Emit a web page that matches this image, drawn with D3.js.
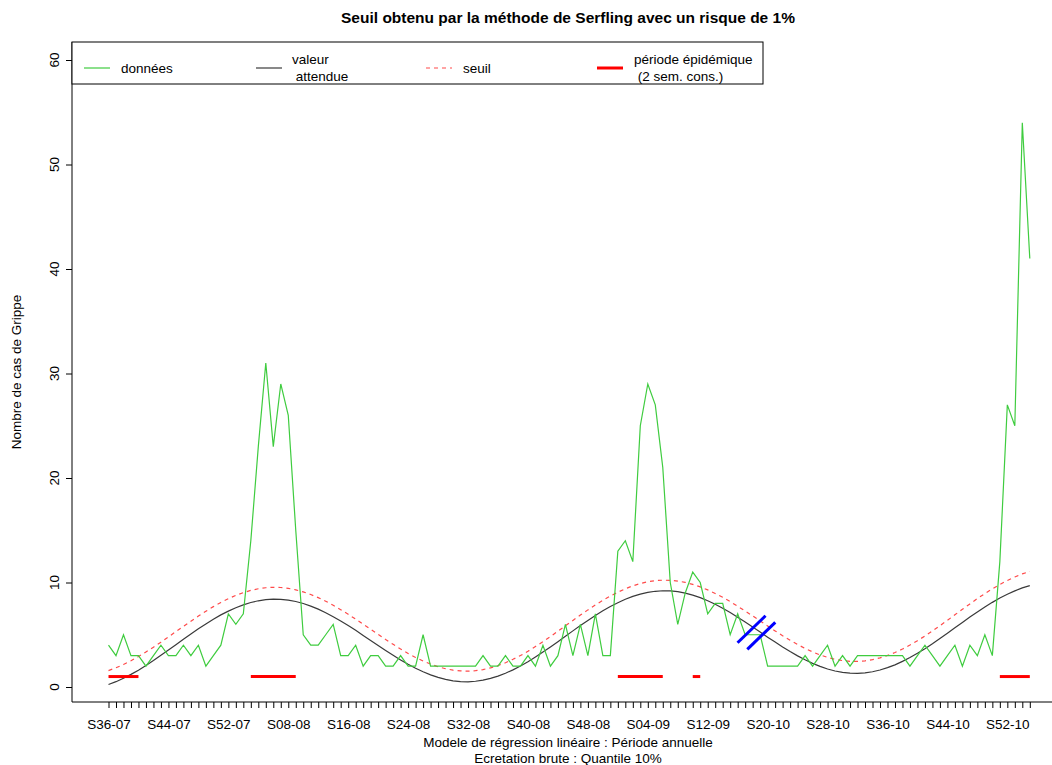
<!DOCTYPE html>
<html><head><meta charset="utf-8">
<script src="https://cdn.jsdelivr.net/npm/d3@7"></script>
<style>
body{margin:0;background:#fff;}
svg{display:block;font-family:"Liberation Sans",Arial,sans-serif;}
</style>
</head><body>
<svg id="chart" width="1052" height="765"></svg>
<script>
// ---- data ----
const tickLabels = ["S36-07","S44-07","S52-07","S08-08","S16-08","S24-08","S32-08","S40-08",
  "S48-08","S04-09","S12-09","S20-10","S28-10","S36-10","S44-10","S52-10"];
const tickStep = 8;
const yTicks = [0,10,20,30,40,50,60];

const donnees = [4,3,5,3,3,2,3,4,3,3, 4,3,4,2,3,4,7,6,7,14, 23,31,23,29,26,15,5,4,4,5,
  6,3,3,4,2,3,3,2,2,3, 2,2,5,2,2,2,2,2,2,2, 3,2,2,3,2,2,3,2,4,2,
  3,6,3,6,3,7,3,3,13,14, 12,25,29,27,21,10,6,9,11,10, 7,8,8,5,7,5,5,5,2,2,
  2,2,2,3,2,3,4,2,3,2, 3,3,3,3,3,3,3,2,3,4, 3,2,3,4,2,4,3,5,3,12, 27,25,54,41];

const valeurAttendue = [0.24,0.51,0.84,1.21,1.61,2.06,2.53,3.03,3.53,4.05,
  4.57,5.07,5.57,6.04,6.49,6.90,7.26,7.59,7.86,8.09,
  8.25,8.36,8.40,8.39,8.31,8.18,7.99,7.74,7.45,7.11,
  6.73,6.32,5.88,5.42,4.94,4.45,3.97,3.49,3.03,2.59,
  2.17,1.79,1.46,1.16,0.92,0.73,0.59,0.52,0.50,0.55,
  0.66,0.82,1.04,1.32,1.64,2.01,2.42,2.87,3.34,3.83,
  4.34,4.86,5.37,5.88,6.37,6.85,7.29,7.70,8.07,8.40,
  8.67,8.89,9.06,9.16,9.21,9.19,9.12,8.98,8.79,8.55,
  8.26,7.92,7.54,7.13,6.68,6.22,5.74,5.26,4.77,4.30,
  3.83,3.39,2.98,2.60,2.26,1.97,1.72,1.53,1.40,1.33,
  1.31,1.36,1.46,1.63,1.85,2.12,2.45,2.82,3.23,3.67,
  4.14,4.64,5.15,5.66,6.18,6.69,7.18,7.65,8.10,8.51,
  8.88,9.20,9.48,9.70];

const seuil = [1.57,1.84,2.15,2.51,2.91,3.35,3.81,4.29,4.79,5.30,
  5.80,6.30,6.79,7.25,7.69,8.09,8.45,8.77,9.03,9.25,
  9.40,9.50,9.54,9.52,9.44,9.30,9.10,8.85,8.55,8.21,
  7.82,7.40,6.96,6.49,6.00,5.52,5.03,4.54,4.08,3.63,
  3.21,2.83,2.49,2.19,1.94,1.75,1.61,1.54,1.52,1.56,
  1.67,1.83,2.05,2.32,2.65,3.01,3.42,3.87,4.34,4.83,
  5.34,5.86,6.37,6.88,7.38,7.85,8.29,8.70,9.07,9.40,
  9.68,9.90,10.07,10.18,10.22,10.21,10.14,10.01,9.82,9.58,
  9.29,8.95,8.58,8.17,7.73,7.27,6.80,6.32,5.84,5.37,
  4.91,4.48,4.07,3.69,3.36,3.07,2.83,2.65,2.53,2.46,
  2.45,2.50,2.62,2.79,3.02,3.30,3.63,4.01,4.43,4.88,
  5.36,5.87,6.38,6.91,7.43,7.95,8.46,8.94,9.39,9.81,
  10.19,10.53,10.82,11.05];

const epiStart = [0,19,68,78,119];
const epiEnd   = [4,25,74,79,123];
const epiLevel = 1;
const breakIndex = 86.5;

const titre = "Seuil obtenu par la méthode de Serfling avec un risque de 1%";
const sousTitre = ["Modele de régression linéaire : Période annuelle","Ecretation brute : Quantile 10%"];
const yTitre = "Nombre de cas de Grippe";

// ---- chart ----
const svg = d3.select("#chart");
const W = 1052, H = 765;
const plot = {left:72, top:42, bottom:702, right:1064};
const x = d3.scaleLinear().domain([0, donnees.length-1]).range([108.5, 1029.8]);
const y = d3.scaleLinear().domain([0,60]).range([687,60]);
const fs = 13.5;

svg.append("rect").attr("width",W).attr("height",H).attr("fill","#fff");

// frame (L-shaped)
svg.append("path")
  .attr("d",`M${plot.left},${plot.top}V${plot.bottom}H${W}`)
  .attr("fill","none").attr("stroke","#000").attr("stroke-width",1);

// x axis
const xAxis = d3.axisBottom(x)
  .tickValues(d3.range(donnees.length))
  .tickFormat(i => i % tickStep === 0 ? (tickLabels[i/tickStep] || "") : "")
  .tickSize(6).tickPadding(11);
const gx = svg.append("g").attr("transform",`translate(0,${plot.bottom})`).call(xAxis);
gx.select(".domain").remove();
gx.selectAll("text").attr("font-size",fs).attr("fill","#000").attr("font-family","Liberation Sans, Arial, sans-serif");
gx.selectAll("line").attr("stroke","#000");

// y axis
const yAxis = d3.axisLeft(y).tickValues(yTicks).tickSize(6).tickFormat("");
const gy = svg.append("g").attr("transform",`translate(${plot.left},0)`).call(yAxis);
gy.select(".domain").remove();
gy.selectAll("line").attr("stroke","#000");
svg.append("g").selectAll("text").data(yTicks).join("text")
  .attr("transform", d => `translate(59,${y(d)}) rotate(-90)`)
  .attr("text-anchor","middle").attr("font-size",fs).text(d => d);

// y title
svg.append("text").attr("transform",`translate(21,${(plot.top+plot.bottom)/2}) rotate(-90)`)
  .attr("text-anchor","middle").attr("font-size",fs).text(yTitre);

// title
svg.append("text").attr("x",(plot.left+plot.right)/2).attr("y",23)
  .attr("text-anchor","middle").attr("font-size",15.5).attr("font-weight","bold").text(titre);

// subtitles
svg.selectAll(".sub").data(sousTitre).join("text").attr("class","sub")
  .attr("x",(plot.left+plot.right)/2).attr("y",(d,i)=>747+i*15.5)
  .attr("text-anchor","middle").attr("font-size",fs).text(d=>d);

// lines
const line = d3.line().x((d,i)=>x(i)).y(d=>y(d));
svg.append("path").datum(valeurAttendue).attr("d",line)
  .attr("fill","none").attr("stroke","#3a3a3a").attr("stroke-width",1.2);
svg.append("path").datum(seuil).attr("d",line)
  .attr("fill","none").attr("stroke","#ff4a4a").attr("stroke-width",1.2).attr("stroke-dasharray","4,4");
svg.append("path").datum(donnees).attr("d",line)
  .attr("fill","none").attr("stroke","#3fcc3f").attr("stroke-width",1.2);

// epidemic periods
svg.append("g").selectAll("line").data(epiStart).join("line")
  .attr("x1",d=>x(d)).attr("x2",(d,i)=>x(epiEnd[i]))
  .attr("y1",y(epiLevel)).attr("y2",y(epiLevel))
  .attr("stroke","#ff0000").attr("stroke-width",3);

// break marks (double slash)
const interp = t => {
  const i0 = Math.floor(t), f = t - i0;
  return valeurAttendue[i0]*(1-f) + valeurAttendue[i0+1]*f;
};
[breakIndex-0.65, breakIndex+0.65].forEach(t => {
  const cx = x(t), cy = y(interp(t)) + 3;
  svg.append("line").attr("x1",cx-14).attr("y1",cy+13.5).attr("x2",cx+14).attr("y2",cy-13.5)
    .attr("stroke","#0000ff").attr("stroke-width",3);
});

// legend
const lg = svg.append("g");
lg.append("rect").attr("x",plot.left).attr("y",plot.top).attr("width",691).attr("height",42)
  .attr("fill","#fff").attr("stroke","#000").attr("stroke-width",1);
const legItems = [
  {x1:84, col:"#3fcc3f", w:1.2, dash:null, tx:121, lines:["données"]},
  {x1:256, col:"#3a3a3a", w:1.2, dash:null, tx:292, lines:["valeur"," attendue"]},
  {x1:426, col:"#ff4a4a", w:1.2, dash:"4,4", tx:463, lines:["seuil"]},
  {x1:597, col:"#ff0000", w:3, dash:null, tx:634, lines:["période épidémique"," (2 sem. cons.)"]}
];
legItems.forEach(it => {
  lg.append("line").attr("x1",it.x1).attr("x2",it.x1+26).attr("y1",68).attr("y2",68)
    .attr("stroke",it.col).attr("stroke-width",it.w).attr("stroke-dasharray",it.dash);
  it.lines.forEach((s,j) => {
    const yy = it.lines.length === 1 ? 73 : 64 + j*17;
    lg.append("text").attr("x",it.tx).attr("y",yy).attr("font-size",fs)
      .attr("xml:space","preserve").style("white-space","pre").text(s);
  });
});
</script>
</body></html>
